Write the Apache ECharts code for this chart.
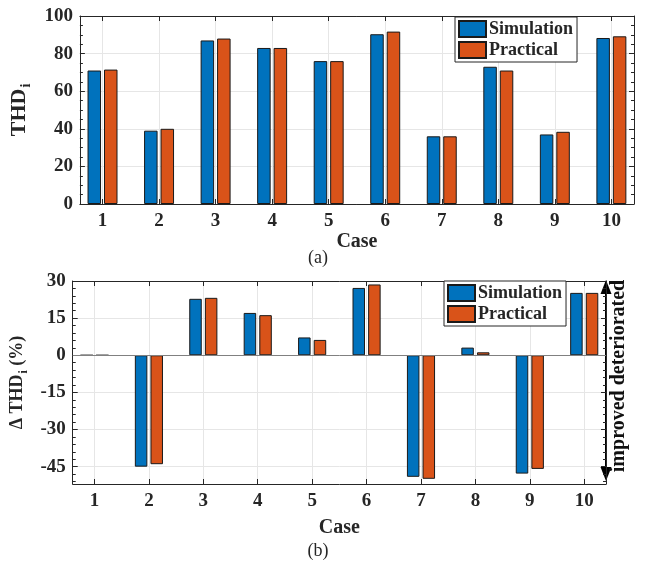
<!DOCTYPE html>
<html>
<head>
<meta charset="utf-8">
<script src="https://cdn.jsdelivr.net/npm/echarts@6/dist/echarts.min.js"></script>
<style>
html,body{margin:0;padding:0;background:#fff}
#container{width:645px;height:563px}
</style>
</head>
<body>
<div id="container"></div>
<script>
// data
var cases = [1, 2, 3, 4, 5, 6, 7, 8, 9, 10];
var thdSim = [71, 39, 87, 83, 76, 90.3, 36, 73, 37, 88.3];
var thdPrac = [71.5, 40, 88, 83, 76, 91.7, 36, 71, 38.4, 89.2];
var dSim = [0, -45, 22.8, 17.1, 7.2, 27.2, -49.1, 3.1, -47.8, 25.2];
var dPrac = [0, -44, 23.2, 16.2, 6.2, 28.6, -49.9, 1.2, -45.9, 25.2];
var dTicks = [-45, -30, -15, 0, 15, 30];
var dMinorTicks = [-51, -48, -45, -42, -39, -36, -33, -30, -27, -24, -21, -18, -15, -12, -9, -6, -3,
                   0, 3, 6, 9, 12, 15, 18, 21, 24, 27, 30];

var FONT = "'Liberation Serif','Times New Roman',serif";
var INK = '#262626';
var GRIDC = '#e6e6e6';
var BLUE = '#0072BD', ORANGE = '#D95319';

function pairs(vals) {
    return cases.map(function (c, i) { return [c, vals[i]]; });
}

var labelStyle = {color: INK, fontFamily: FONT, fontSize: 19, fontWeight: 'bold'};
function nameRich(big, small, drop) {
    return {
        a: {fontFamily: FONT, fontSize: big, fontWeight: 'bold', color: INK},
        s: {fontFamily: FONT, fontSize: small, fontWeight: 'bold', color: INK, padding: [drop, 0, 0, 1]}
    };
}

function caseAxis(grid, pos, main, gap) {
    var ax = {
        type: 'value', gridIndex: grid, position: pos, min: 0.6, max: 10.4,
        axisLine: {show: true, onZero: false, lineStyle: {color: INK, width: 1}},
        axisTick: {show: true, inside: true, length: 5, customValues: cases, lineStyle: {color: INK}},
        axisLabel: Object.assign({show: main, customValues: cases, margin: 8}, labelStyle),
        splitLine: {show: main, lineStyle: {color: GRIDC}}
    };
    if (main) {
        ax.name = 'Case';
        ax.nameLocation = 'middle';
        ax.nameGap = gap;
        ax.nameTextStyle = {color: INK, fontFamily: FONT, fontSize: 20, fontWeight: 'bold'};
    }
    return ax;
}

var dom = document.getElementById('container');
var myChart = echarts.init(dom);

var legendBase = {
    data: ['Simulation', 'Practical'],
    orient: 'vertical',
    itemWidth: 27,
    itemHeight: 16,
    itemGap: 3,
    icon: 'rect',
    borderColor: INK,
    borderWidth: 1,
    backgroundColor: '#fff',
    textStyle: {color: INK, fontFamily: FONT, fontSize: 18, fontWeight: 'bold', padding: [0, 0, 0, -2]}
};

var option = {
    animation: false,
    grid: [
        {left: 68, top: 16, width: 566, height: 188},
        {left: 72, top: 281, width: 534, height: 203}
    ],
    legend: [
        Object.assign({}, legendBase, {left: 455, top: 17, padding: [3, 4, 3, 3]}),
        Object.assign({}, legendBase, {left: 444, top: 281, padding: [3, 4, 3, 3]})
    ],
    xAxis: [
        caseAxis(0, 'bottom', true, 27),
        caseAxis(0, 'top', false),
        caseAxis(1, 'bottom', true, 34),
        caseAxis(1, 'top', false)
    ],
    yAxis: [
        {   // top panel, left
            type: 'value', gridIndex: 0, position: 'left', min: 0, max: 100, interval: 20,
            axisLine: {show: true, onZero: false, lineStyle: {color: INK}},
            axisTick: {inside: true, length: 5, lineStyle: {color: INK}},
            minorTick: {show: true, splitNumber: 4, length: 3, lineStyle: {color: INK}},
            axisLabel: Object.assign({margin: 7}, labelStyle),
            splitLine: {show: true, lineStyle: {color: GRIDC}},
            name: '{a|THD}{s|i}', nameLocation: 'middle', nameGap: 38,
            nameTextStyle: {rich: nameRich(22, 14, 15)}
        },
        {   // top panel, right mirror
            type: 'value', gridIndex: 0, position: 'right', min: 0, max: 100, interval: 20,
            axisLine: {show: true, onZero: false, lineStyle: {color: INK}},
            axisTick: {inside: true, length: 5, lineStyle: {color: INK}},
            minorTick: {show: true, splitNumber: 4, length: 3, lineStyle: {color: INK}},
            axisLabel: {show: false},
            splitLine: {show: false}
        },
        {   // bottom panel, left
            type: 'value', gridIndex: 1, position: 'left', min: -52, max: 30,
            axisLine: {show: true, onZero: false, lineStyle: {color: INK}},
            axisTick: {inside: true, length: 5, customValues: dTicks, lineStyle: {color: INK}},
            axisLabel: Object.assign({margin: 7, customValues: dTicks}, labelStyle),
            splitLine: {show: true, lineStyle: {color: GRIDC}},
            name: '{a|\u0394 THD}{s|i}{a| (%)}', nameLocation: 'middle', nameGap: 38,
            nameTextStyle: {rich: nameRich(18, 12, 13)}
        },
        {   // bottom panel, right mirror
            type: 'value', gridIndex: 1, position: 'right', min: -52, max: 30,
            axisLine: {show: true, onZero: false, lineStyle: {color: INK}},
            axisTick: {inside: true, length: 5, customValues: dTicks, lineStyle: {color: INK}},
            axisLabel: {show: false},
            splitLine: {show: false}
        },
        {   // bottom panel minor ticks left
            type: 'value', gridIndex: 1, position: 'left', min: -52, max: 30,
            axisLine: {show: false},
            axisTick: {inside: true, length: 3, customValues: dMinorTicks, lineStyle: {color: INK}},
            axisLabel: {show: false},
            splitLine: {show: false}
        },
        {   // bottom panel minor ticks right
            type: 'value', gridIndex: 1, position: 'right', min: -52, max: 30,
            axisLine: {show: false},
            axisTick: {inside: true, length: 3, customValues: dMinorTicks, lineStyle: {color: INK}},
            axisLabel: {show: false},
            splitLine: {show: false}
        }
    ],
    series: [
        {
            name: 'Simulation', type: 'bar', xAxisIndex: 0, yAxisIndex: 0,
            barWidth: 13.5, barGap: '22%', data: pairs(thdSim),
            itemStyle: {color: BLUE, borderColor: '#1a1a1a', borderWidth: 1},
            emphasis: {disabled: true}
        },
        {
            name: 'Practical', type: 'bar', xAxisIndex: 0, yAxisIndex: 0,
            barWidth: 13.5, barGap: '22%', data: pairs(thdPrac),
            itemStyle: {color: ORANGE, borderColor: '#1a1a1a', borderWidth: 1},
            emphasis: {disabled: true}
        },
        {
            name: 'Simulation', type: 'bar', xAxisIndex: 2, yAxisIndex: 2,
            barWidth: 12.5, barGap: '25%', data: pairs(dSim),
            itemStyle: {color: BLUE, borderColor: '#1a1a1a', borderWidth: 1},
            emphasis: {disabled: true},
            markLine: {
                silent: true, symbol: 'none', label: {show: false},
                lineStyle: {color: '#808080', type: 'solid', width: 1},
                data: [{yAxis: 0}]
            }
        },
        {
            name: 'Practical', type: 'bar', xAxisIndex: 2, yAxisIndex: 2,
            barWidth: 12.5, barGap: '25%', data: pairs(dPrac),
            itemStyle: {color: ORANGE, borderColor: '#1a1a1a', borderWidth: 1},
            emphasis: {disabled: true}
        }
    ],
    graphic: [
        {type: 'text', x: 318, y: 258, style: {text: '(a)', fill: INK, font: '18px ' + FONT, textAlign: 'center', textVerticalAlign: 'middle'}},
        {type: 'text', x: 318, y: 551, style: {text: '(b)', fill: INK, font: '18px ' + FONT, textAlign: 'center', textVerticalAlign: 'middle'}},
        // improved / deteriorated arrow
        {type: 'line', shape: {x1: 606, y1: 290, x2: 606, y2: 471}, style: {stroke: '#000', lineWidth: 2}},
        {type: 'polygon', shape: {points: [[606, 280], [600.5, 294], [611.5, 294]]}, style: {fill: '#000'}},
        {type: 'polygon', shape: {points: [[606, 481], [600.5, 467], [611.5, 467]]}, style: {fill: '#000'}},
        {type: 'text', x: 619, y: 376, rotation: Math.PI / 2,
         style: {text: 'improved deteriorated', fill: '#111', font: 'bold 20px ' + FONT, textAlign: 'center', textVerticalAlign: 'middle'}}
    ]
};

myChart.setOption(option);
</script>
</body>
</html>
